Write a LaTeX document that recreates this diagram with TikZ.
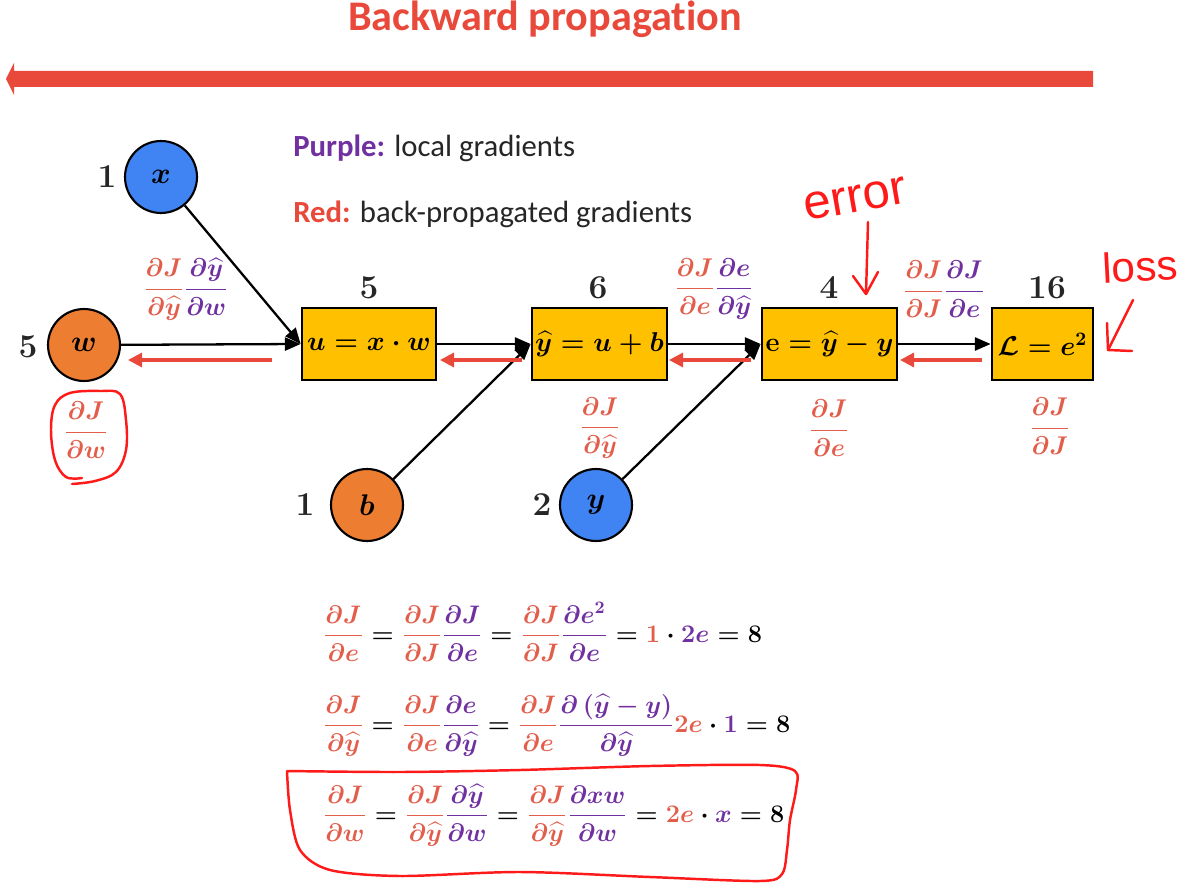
\RequirePackage{fix-cm}
\documentclass[tikz,border=0pt]{standalone}
\usepackage{amsmath}
\usepackage{fontspec}
\newfontfamily\carlito[Ligatures=NoCommon]{Carlito}
\newfontfamily\handfont{Liberation Sans}
\usetikzlibrary{arrows.meta}
\definecolor{bpred}{HTML}{E8493A}
\definecolor{gred}{HTML}{E35D4B}
\definecolor{gpur}{HTML}{7030A0}
\definecolor{nblue}{HTML}{3F84F2}
\definecolor{norange}{HTML}{ED7D31}
\definecolor{ngold}{HTML}{FFC000}
\definecolor{hred}{HTML}{FF1A1A}
\definecolor{txt}{HTML}{262626}
\newcommand{\hy}{\widehat{y}}
\newcommand{\rf}[2]{{\color{gred}\dfrac{#1}{#2}}}
\newcommand{\pf}[2]{{\color{gpur}\dfrac{#1}{#2}}}
\newcommand{\rc}[1]{{\color{gred}#1}}
\newcommand{\pc}[1]{{\color{gpur}#1}}
\begin{document}
\begin{tikzpicture}[x=0.02cm,y=-0.02cm,
  circ/.style={circle, draw=black, line width=1.2pt, minimum size=1.44cm, inner sep=0pt, font=\fontsize{17}{20}\selectfont\boldmath},
  opbox/.style={rectangle, draw=black, line width=1.6pt, fill=ngold, minimum height=1.44cm, inner sep=0pt, font=\fontsize{15.5}{18}\selectfont\boldmath},
  val/.style={font=\fontsize{19}{22}\selectfont\bfseries, text=txt, anchor=base, inner sep=0pt},
  grad/.style={font=\fontsize{14.6}{18}\selectfont\boldmath, inner sep=0pt},
  eqn/.style={font=\fontsize{14.4}{18}\selectfont\boldmath, anchor=base west, inner sep=0pt},
  fwd/.style={-{Triangle[length=9pt,width=7.5pt]}, line width=1.3pt},
  back/.style={-{Triangle[length=8pt,width=8pt]}, line width=1.8pt, draw=bpred},
  hand/.style={draw=hred, line width=1.4pt, line cap=round, line join=round},
  legend/.style={font=\carlito\fontsize{17.5}{21}\selectfont, text=txt, anchor=base west, inner sep=0pt}]
\useasboundingbox (0,0) rectangle (1179,885);
% title and big arrow
\node[anchor=base, inner sep=0pt, text=bpred, font=\carlito\bfseries\fontsize{24}{28}\selectfont] (title) at (545,31) {Backward propagation};
\fill[bpred] (1093,71) -- (14,71) -- (14,63) -- (6,79) -- (14,95) -- (14,87) -- (1093,87) -- cycle;
% legend
\node[legend] (leg1) at (293,157) {{\bfseries\color{gpur}Purple:} local gradients};
\node[legend] (leg2) at (293,222) {{\bfseries\color{bpred}Red:} back-propagated gradients};
% input nodes
\node[circ, fill=nblue] (x) at (161,177) {$x$};
\node[circ, fill=norange] (w) at (84,345) {$w$};
\node[circ, fill=norange] (b) at (367,505) {$b$};
\node[circ, fill=nblue] (y) at (596,505) {$y$};
% operation boxes
\node[opbox, minimum width=2.68cm] (u) at (369,344) {$u = x\cdot w$};
\node[opbox, minimum width=2.7cm] (yh) at (599.5,344) {$\hy = u + b$};
\node[opbox, minimum width=2.7cm] (e) at (829.5,344) {$\mathbf{e} = \hy - y$};
\node[opbox, minimum width=2.02cm] (L) at (1042.5,344) {$\mathcal{L} = e^2$};
% values
\node[val] (vx) at (107,188) {1};
\node[val] (vw) at (28,357) {5};
\node[val] (vb) at (305,515) {1};
\node[val] (vy) at (542,515) {2};
\node[val] (vu) at (369,298) {5};
\node[val] (vyh) at (598,298) {6};
\node[val] (ve) at (829,298) {4};
\node[val] (vL) at (1047,298) {16};
% forward connectors
\draw[fwd] (w) -- (u.west);
\draw[fwd] (x) -- (u.west);
\draw[fwd] (u) -- (yh);
\draw[fwd] (b) -- (yh.west);
\draw[fwd] (yh) -- (e);
\draw[fwd] (y) -- (e.west);
\draw[fwd] (e) -- (L);
% backward arrows
\coordinate (b1s) at (272,360); \coordinate (b1e) at (128,360);
\coordinate (b2s) at (522,360); \coordinate (b2e) at (440,360);
\coordinate (b3s) at (751,360); \coordinate (b3e) at (669,360);
\coordinate (b4s) at (982,360); \coordinate (b4e) at (900,360);
\draw[back] (b1s) -- (b1e);
\draw[back] (b2s) -- (b2e);
\draw[back] (b3s) -- (b3e);
\draw[back] (b4s) -- (b4e);
% gradient labels
\node[grad] (g1) at (186,289) {$\rf{\partial J}{\partial\hy}\pf{\partial\hy}{\partial w}$};
\node[grad] (g2) at (714,289) {$\rf{\partial J}{\partial e}\pf{\partial e}{\partial\hy}$};
\node[grad] (g3) at (944,289) {$\rf{\partial J}{\partial J}\pf{\partial J}{\partial e}$};
\node[grad] (g4) at (86,430) {$\rf{\partial J}{\partial w}$};
\node[grad] (g5) at (600,428) {$\rf{\partial J}{\partial\hy}$};
\node[grad] (g6) at (829,428) {$\rf{\partial J}{\partial e}$};
\node[grad] (g7) at (1050,426) {$\rf{\partial J}{\partial J}$};
% equations
\node[eqn] (eq1) at (323,642) {$\rf{\partial J}{\partial e} = \rf{\partial J}{\partial J}\pf{\partial J}{\partial e} = \rf{\partial J}{\partial J}\pf{\partial e^2}{\partial e} = \rc{1}\cdot\pc{2e} = 8$};
\node[eqn] (eq2) at (323,732) {$\rf{\partial J}{\partial\hy} = \rf{\partial J}{\partial e}\pf{\partial e}{\partial\hy} = \rf{\partial J}{\partial e}\pf{\partial\,(\hy - y)}{\partial\hy}\rc{2e}\cdot\pc{1} = 8$};
\node[eqn] (eq3) at (323,822) {$\rf{\partial J}{\partial w} = \rf{\partial J}{\partial\hy}\pf{\partial\hy}{\partial w} = \rf{\partial J}{\partial\hy}\pf{\partial xw}{\partial w} = \rc{2e}\cdot\pc{x} = 8$};
% handwritten annotations
\node[text=hred, font=\handfont\fontsize{28}{32}\selectfont, rotate=10, inner sep=0pt] (err) at (855,199) {error};
\node[text=hred, font=\handfont\fontsize{24}{28}\selectfont, rotate=3, inner sep=0pt] (loss) at (1140,266) {loss};
\draw[hand] (868,222) -- (866,294);
\draw[hand] (853,276) -- (866,294) -- (878,272);
\draw[hand] (1133,300) -- (1108,350);
\draw[hand] (1107,323) -- (1108,350) -- (1132,351);
\draw[hand] plot[smooth, tension=0.6] coordinates {(82,478) (66,477) (55,460) (51,430) (55,405) (70,393) (100,391) (120,394) (126,420) (126,450) (116,472) (95,481) (72,484)};
\draw[hand] plot[smooth, tension=0.5] coordinates {(287,771) (400,772) (520,770) (650,766) (760,765) (795,771) (796,790) (790,820) (787,850) (782,874) (760,881) (650,877) (520,872) (400,876) (330,870) (300,850) (290,810) (287,771)};
\end{tikzpicture}
\end{document}
